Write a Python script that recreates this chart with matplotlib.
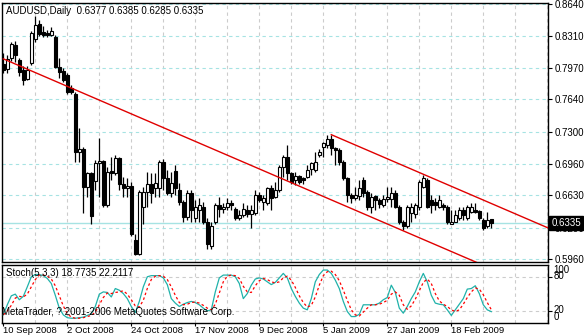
import matplotlib
matplotlib.use("Agg")
import matplotlib.pyplot as plt
import matplotlib.transforms as mtransforms
import numpy as np

plt.rcParams["font.family"] = ["Liberation Sans", "DejaVu Sans"]

symbol = "AUDUSD,Daily"

opens = [0.8013, 0.7961, 0.8076, 0.8213, 0.8055, 0.7950, 0.7856, 0.8024, 0.8276, 0.8433,
         0.8349, 0.8339, 0.8318, 0.8297, 0.7982, 0.7940, 0.7898, 0.7761, 0.7698, 0.7089,
         0.7121, 0.6722, 0.6869, 0.6785, 0.6974, 0.6995, 0.6533, 0.6890, 0.6869, 0.7026,
         0.6753, 0.6711, 0.6732, 0.6165, 0.6008, 0.6512, 0.6669, 0.6753, 0.6711, 0.6711,
         0.6984, 0.6816, 0.6659, 0.6890, 0.6690, 0.6564, 0.6407, 0.6659, 0.6386, 0.6480,
         0.6512, 0.6354, 0.6092, 0.6354, 0.6533, 0.6491, 0.6512, 0.6554, 0.6491, 0.6396,
         0.6428, 0.6480, 0.6438, 0.6449, 0.6638, 0.6564, 0.6554, 0.6711, 0.6617, 0.6690,
         0.6932, 0.7037, 0.6869, 0.6795, 0.6837, 0.6816, 0.6827, 0.6911, 0.6900, 0.7058,
         0.7142, 0.7163, 0.7226, 0.7131, 0.7110, 0.6984, 0.6816, 0.6638, 0.6606, 0.6627,
         0.6795, 0.6669, 0.6512, 0.6627, 0.6585, 0.6533, 0.6596, 0.6596, 0.6659, 0.6512,
         0.6354, 0.6302, 0.6449, 0.6438, 0.6512, 0.6722, 0.6795, 0.6585, 0.6564, 0.6512,
         0.6533, 0.6512, 0.6333, 0.6354, 0.6396, 0.6480, 0.6396, 0.6459, 0.6480, 0.6470,
         0.6375, 0.6302, 0.6377]
highs = [0.8129, 0.8108, 0.8244, 0.8255, 0.8076, 0.7992, 0.7992, 0.8360, 0.8517, 0.8475,
         0.8412, 0.8370, 0.8402, 0.8318, 0.8076, 0.7971, 0.7919, 0.7793, 0.7719, 0.7341,
         0.7142, 0.6879, 0.6879, 0.7005, 0.7236, 0.7005, 0.6932, 0.7037, 0.7058, 0.7037,
         0.6827, 0.6816, 0.6774, 0.6218, 0.6690, 0.6722, 0.6879, 0.6869, 0.6869, 0.7005,
         0.7016, 0.6900, 0.6879, 0.6953, 0.6764, 0.6585, 0.6690, 0.6690, 0.6585, 0.6606,
         0.6564, 0.6396, 0.6354, 0.6554, 0.6617, 0.6554, 0.6606, 0.6585, 0.6512, 0.6480,
         0.6554, 0.6533, 0.6533, 0.6690, 0.6669, 0.6638, 0.6722, 0.6743, 0.6774, 0.6953,
         0.7058, 0.7163, 0.6879, 0.6879, 0.6848, 0.6827, 0.6953, 0.6984, 0.7089, 0.7121,
         0.7194, 0.7268, 0.7268, 0.7142, 0.7131, 0.7005, 0.6827, 0.6659, 0.6722, 0.6795,
         0.6827, 0.6690, 0.6659, 0.6638, 0.6606, 0.6638, 0.6722, 0.6722, 0.6690, 0.6533,
         0.6375, 0.6533, 0.6554, 0.6554, 0.6795, 0.6848, 0.6816, 0.6638, 0.6606, 0.6638,
         0.6554, 0.6533, 0.6480, 0.6480, 0.6512, 0.6512, 0.6533, 0.6554, 0.6554, 0.6480,
         0.6396, 0.6459, 0.6385]
lows = [0.7919, 0.7919, 0.8045, 0.8034, 0.7887, 0.7793, 0.7845, 0.8003, 0.8244, 0.8307,
        0.8297, 0.8297, 0.8307, 0.7971, 0.7866, 0.7824, 0.7698, 0.7698, 0.6984, 0.6984,
        0.6449, 0.6617, 0.6323, 0.6690, 0.6617, 0.6512, 0.6512, 0.6795, 0.6848, 0.6690,
        0.6617, 0.6617, 0.6197, 0.5997, 0.5997, 0.6323, 0.6512, 0.6554, 0.6617, 0.6617,
        0.6690, 0.6638, 0.6617, 0.6638, 0.6533, 0.6344, 0.6375, 0.6354, 0.6354, 0.6354,
        0.6333, 0.6060, 0.6060, 0.6323, 0.6407, 0.6449, 0.6480, 0.6480, 0.6375, 0.6375,
        0.6407, 0.6407, 0.6291, 0.6428, 0.6564, 0.6480, 0.6533, 0.6480, 0.6606, 0.6669,
        0.6827, 0.6795, 0.6753, 0.6743, 0.6753, 0.6753, 0.6816, 0.6848, 0.6879, 0.7037,
        0.7037, 0.7131, 0.7058, 0.6953, 0.6953, 0.6795, 0.6564, 0.6554, 0.6585, 0.6585,
        0.6617, 0.6480, 0.6449, 0.6480, 0.6501, 0.6512, 0.6564, 0.6512, 0.6501, 0.6323,
        0.6270, 0.6291, 0.6344, 0.6396, 0.6480, 0.6711, 0.6501, 0.6449, 0.6480, 0.6501,
        0.6480, 0.6323, 0.6323, 0.6344, 0.6375, 0.6375, 0.6375, 0.6449, 0.6449, 0.6375,
        0.6270, 0.6291, 0.6285]
closes = [0.7950, 0.8066, 0.8223, 0.8108, 0.7929, 0.7845, 0.7950, 0.8339, 0.8423, 0.8328,
          0.8318, 0.8318, 0.8360, 0.7982, 0.7929, 0.7845, 0.7719, 0.7719, 0.7089, 0.7121,
          0.6722, 0.6869, 0.6417, 0.6974, 0.6995, 0.6533, 0.6879, 0.6869, 0.7026, 0.6753,
          0.6711, 0.6732, 0.6218, 0.6008, 0.6669, 0.6669, 0.6753, 0.6659, 0.6764, 0.6984,
          0.6816, 0.6659, 0.6764, 0.6711, 0.6564, 0.6407, 0.6659, 0.6480, 0.6512, 0.6533,
          0.6354, 0.6113, 0.6302, 0.6533, 0.6491, 0.6512, 0.6554, 0.6533, 0.6386, 0.6428,
          0.6491, 0.6438, 0.6480, 0.6638, 0.6585, 0.6606, 0.6711, 0.6606, 0.6690, 0.6932,
          0.7037, 0.6869, 0.6774, 0.6837, 0.6774, 0.6795, 0.6900, 0.6974, 0.6984, 0.7089,
          0.7184, 0.7226, 0.7131, 0.7110, 0.6984, 0.6816, 0.6638, 0.6606, 0.6638, 0.6711,
          0.6659, 0.6512, 0.6617, 0.6585, 0.6543, 0.6596, 0.6617, 0.6659, 0.6512, 0.6344,
          0.6302, 0.6512, 0.6512, 0.6533, 0.6774, 0.6816, 0.6512, 0.6533, 0.6533, 0.6585,
          0.6512, 0.6344, 0.6354, 0.6428, 0.6480, 0.6428, 0.6512, 0.6512, 0.6459, 0.6396,
          0.6291, 0.6375, 0.6335]

stoch_main = [13, 31, 47, 50, 40, 46, 63, 81, 85, 85,
              83, 78, 69, 48, 25, 13, 8, 7, 7, 8,
              9, 12, 15, 28, 50, 54, 53, 45, 60, 57,
              51, 42, 28, 17, 37, 63, 81, 83, 83, 83,
              79, 67, 42, 34, 28, 32, 35, 37, 35, 31,
              25, 20, 22, 54, 79, 84, 84, 84, 81, 69,
              42, 51, 66, 77, 79, 77, 72, 67, 71, 79,
              87, 79, 60, 46, 34, 25, 22, 42, 72, 85,
              93, 93, 87, 75, 60, 37, 19, 10, 10, 14,
              31, 31, 31, 31, 34, 40, 44, 66, 53, 25,
              16, 28, 42, 54, 72, 87, 72, 48, 34, 32,
              31, 22, 12, 22, 32, 42, 59, 60, 65, 51,
              31, 22, 18.7735]
stoch_signal = [13, 20, 30, 43, 46, 45, 50, 63, 76, 84,
                84, 82, 77, 65, 47, 29, 15, 9, 7, 7,
                8, 10, 12, 18, 31, 44, 52, 51, 53, 54,
                56, 50, 40, 29, 27, 39, 60, 76, 82, 83,
                82, 76, 63, 48, 35, 31, 32, 35, 36, 34,
                30, 25, 22, 32, 52, 72, 82, 84, 83, 78,
                64, 54, 53, 65, 74, 78, 76, 72, 70, 72,
                79, 82, 75, 62, 47, 35, 27, 30, 45, 66,
                83, 90, 91, 85, 74, 57, 39, 22, 13, 11,
                18, 25, 31, 31, 32, 35, 39, 50, 54, 48,
                31, 23, 29, 41, 56, 71, 77, 69, 51, 38,
                32, 28, 22, 19, 22, 32, 44, 54, 61, 59,
                49, 35, 22.2117]

price_ticks = [0.8640, 0.8310, 0.7970, 0.7640, 0.7300, 0.6960, 0.6630, 0.6290, 0.5960]
date_bars = [0, 16, 32, 48, 64, 80, 96, 112]
date_labels = ["10 Sep 2008", "2 Oct 2008", "24 Oct 2008", "17 Nov 2008",
               "9 Dec 2008", "5 Jan 2009", "27 Jan 2009", "18 Feb 2009"]

# channel anchors: (bar, price)
lower_line = [(0, 0.8066), (60, 0.6980)]
upper_line = [(82, 0.7268), (120, 0.6580)]

W, H = 584, 336
fig = plt.figure(figsize=(W / 100, H / 100), dpi=100)
fig.patch.set_facecolor("white")


def px_axes(left, top, right, bottom):
    return fig.add_axes([left / W, 1 - bottom / H, (right - left) / W, (bottom - top) / H])


ax = px_axes(2, 3, 548, 262)
ax2 = px_axes(2, 265, 548, 323)

o = np.array(opens)
h = np.array(highs)
l = np.array(lows)
c = np.array(closes)
x = np.arange(len(o))
xmax = 136.175

hgrid = "#a6e3e3"
vgrid = "#cccccc"
dash = (0, (3, 3))

for a in (ax, ax2):
    a.set_xlim(-0.325, xmax)
    for b in range(8, 137, 8):
        a.axvline(b, color=vgrid, lw=0.8, ls=dash, zorder=0)
    for s in a.spines.values():
        s.set_color("black")
        s.set_linewidth(1)
    a.set_facecolor("white")

# main panel
ax.set_ylim(0.59283, 0.86534)
for p in price_ticks:
    ax.axhline(p, color=hgrid, lw=0.8, ls=dash, zorder=0)
ax.axhline(closes[-1], color=hgrid, lw=1, zorder=1)

up = c >= o
body_low = np.minimum(o, c)
body_h = np.abs(c - o)
ax.vlines(x, l, h, color="black", lw=0.9, zorder=3)
ax.bar(x[up], body_h[up], bottom=body_low[up], width=0.72,
       facecolor="white", edgecolor="black", lw=0.8, zorder=4)
ax.bar(x[~up], body_h[~up], bottom=body_low[~up], width=0.72,
       facecolor="black", edgecolor="black", lw=0.8, zorder=4)

for (b0, p0), (b1, p1) in (lower_line, upper_line):
    slope = (p1 - p0) / (b1 - b0)
    xs = np.array([b0, xmax])
    ax.plot(xs, p0 + slope * (xs - b0), color="#e00000", lw=1, zorder=5)

ax.set_xticks([])
ax.yaxis.tick_right()
ax.set_yticks(price_ticks)
ax.set_yticklabels([f"{p:.4f}" for p in price_ticks])
ax.tick_params(axis="y", length=3, width=0.8, pad=1.5, labelsize=7, colors="black")

trans = mtransforms.blended_transform_factory(ax.transAxes, ax.transData)
ax.text(1.006, closes[-1], f"{closes[-1]:.4f}", transform=trans, va="center", ha="left",
        color="white", fontsize=7, zorder=10,
        bbox=dict(boxstyle="square,pad=0.2", fc="black", ec="black"))

fig.text(6 / W, 1 - 10.5 / H,
         f"{symbol}  {opens[-1]:.4f} {highs[-1]:.4f} {lows[-1]:.4f} {closes[-1]:.4f}",
         va="center", ha="left", fontsize=7)

# stochastic panel
ax2.set_ylim(-1.5, 102)
for lvl in (20, 80):
    ax2.axhline(lvl, color=vgrid, lw=0.8, ls=dash, zorder=0)
ax2.plot(x, stoch_main, color="#20b2aa", lw=0.9, zorder=3)
ax2.plot(x, stoch_signal, color="red", lw=0.9, ls=(0, (2, 2)), zorder=4)

ax2.yaxis.tick_right()
ax2.set_yticks([20, 80])
ax2.set_yticklabels([])
ax2.tick_params(axis="y", length=3, width=0.8)
trans2 = mtransforms.blended_transform_factory(ax2.transAxes, ax2.transData)
for val, pos in ((100, 93), (80, 82), (20, 21.5), (0, 10)):
    ax2.text(1.01, pos, str(val), transform=trans2, va="center", ha="left", fontsize=7)

ax2.set_xticks(date_bars)
ax2.set_xticklabels(date_labels, ha="left")
ax2.tick_params(axis="x", length=2, width=0.8, pad=0.3, labelsize=6.8)

fig.text(6 / W, 1 - 273 / H,
         f"Stoch(5,3,3) {stoch_main[-1]:.4f} {stoch_signal[-1]:.4f}",
         va="center", ha="left", fontsize=7)
fig.text(2 / W, 1 - 312 / H, "MetaTrader, ? 2001-2006 MetaQuotes Software Corp.",
         va="center", ha="left", fontsize=7)

fig.savefig("out.png", dpi=100, facecolor="white")
